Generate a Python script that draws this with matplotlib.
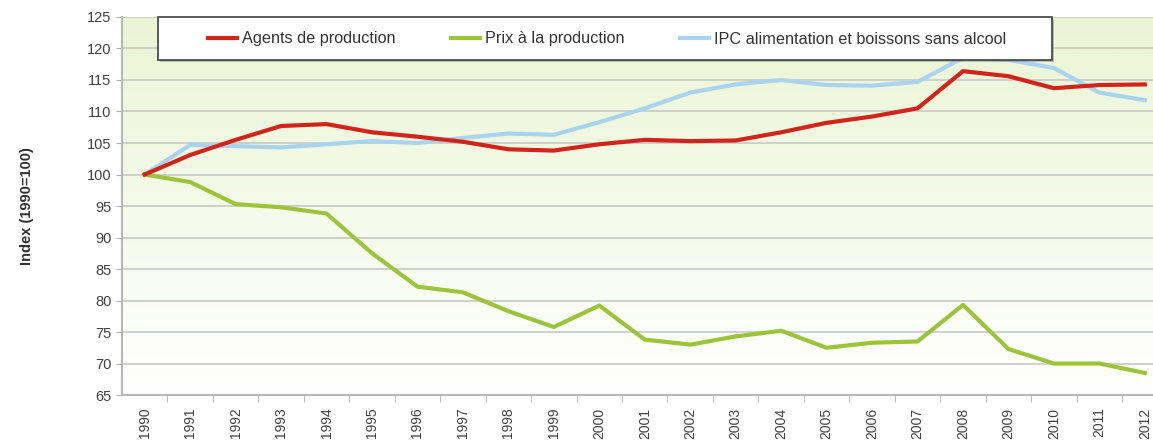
import numpy as np
import matplotlib.pyplot as plt
from matplotlib.colors import LinearSegmentedColormap
from matplotlib.patches import Rectangle

plt.rcParams['font.family'] = ['Liberation Sans', 'DejaVu Sans']

annees = [str(a) for a in range(1990, 2013)]

agents = [100, 103.1, 105.5, 107.7, 108.0, 106.7, 106.0, 105.2, 104.0, 103.8, 104.8, 105.5,
          105.3, 105.4, 106.7, 108.2, 109.2, 110.5, 116.4, 115.6, 113.7, 114.2, 114.3]
prix = [100, 98.8, 95.3, 94.8, 93.8, 87.5, 82.2, 81.3, 78.3, 75.8, 79.2, 73.8,
        73.0, 74.3, 75.2, 72.5, 73.3, 73.5, 79.3, 72.3, 70.0, 70.0, 68.5]
ipc = [100, 104.7, 104.5, 104.3, 104.8, 105.3, 105.0, 105.8, 106.5, 106.3, 108.3, 110.5,
       113.0, 114.3, 115.0, 114.2, 114.1, 114.7, 118.5, 118.2, 116.9, 113.0, 111.8]

x = np.arange(len(annees))

fig = plt.figure(figsize=(11.53, 4.46), dpi=100)
ax = fig.add_axes([0.1058, 0.1143, 0.8942, 0.8476])

# fond en degrade vert clair -> blanc
cmap = LinearSegmentedColormap.from_list("fond", ["#ffffff", "#ebf5d4"])
grad = np.linspace(0, 1, 256).reshape(-1, 1)
ax.imshow(grad, aspect="auto", cmap=cmap, origin="lower",
          extent=[-0.5, 22.18, 65, 125], zorder=0)

for v in range(70, 126, 5):
    ax.axhline(v, color="#c8c8c8", linewidth=1.2, zorder=1)

ax.plot(x, ipc, color="#a9d3ef", linewidth=3, label="IPC alimentation et boissons sans alcool", zorder=3)
ax.plot(x, agents, color="#d0251a", linewidth=3, label="Agents de production", zorder=4)
ax.plot(x, prix, color="#9cc43a", linewidth=3, label="Prix à la production", zorder=3)

ax.set_xlim(-0.5, 22.18)
ax.set_ylim(65, 125)
ax.set_yticks(range(65, 126, 5))
ax.set_xticks(x)
ax.set_xticklabels(annees, rotation=90, fontsize=10, color="#404040")
ax.set_xticks(x[:-1] + 0.5, minor=True)
ax.tick_params(axis="x", which="major", length=0, pad=9)
ax.tick_params(axis="x", which="minor", length=5, color="#b0b0b0")
ax.tick_params(axis="y", length=4, color="#b0b0b0", labelsize=10.5, labelcolor="#404040")

for s in ["top", "right"]:
    ax.spines[s].set_visible(False)
for s in ["left", "bottom"]:
    ax.spines[s].set_color("#b8b8b8")
    ax.spines[s].set_linewidth(1.5)

ax.set_ylabel("Index (1990=100)", fontsize=10.5, fontweight="bold", color="#303030", labelpad=38)

# cadre de la legende (avec ombre)
W, H = 1153, 446
ombre = Rectangle((160 / W, 1 - 62 / H), (1052 - 158) / W, (60 - 17) / H,
                  transform=fig.transFigure, facecolor="#888888", edgecolor="none",
                  alpha=0.5, zorder=5)
cadre = Rectangle((158 / W, 1 - 60 / H), (1052 - 158) / W, (60 - 17) / H,
                  transform=fig.transFigure, facecolor="white", edgecolor="#404040",
                  linewidth=1.2, zorder=6)
fig.patches.extend([ombre, cadre])

h, l = ax.get_legend_handles_labels()
ordre = [1, 2, 0]
leg = fig.legend([h[i] for i in ordre], [l[i] for i in ordre], ncol=3,
                 loc="center left", bbox_to_anchor=(208 / W, 1 - 39 / H),
                 fontsize=11.7, frameon=False, handlelength=1.8,
                 handletextpad=0.3, columnspacing=3.4, borderpad=0, borderaxespad=0)
for t in leg.get_texts():
    t.set_color("#333333")
leg.set_zorder(7)

plt.savefig("out.png", dpi=100)
